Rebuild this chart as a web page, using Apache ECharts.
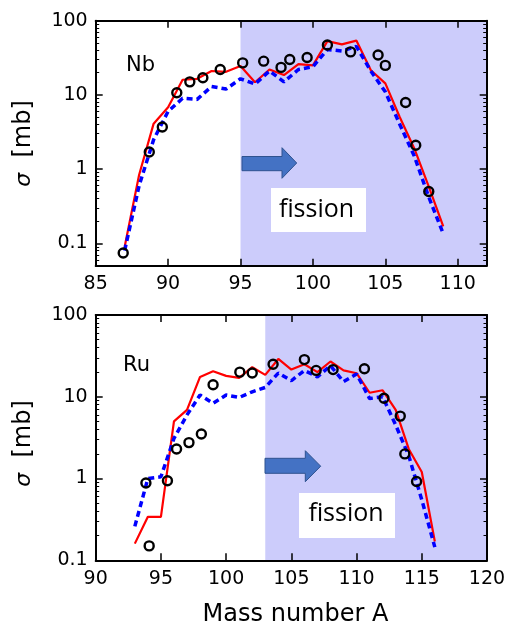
<!DOCTYPE html>
<html>
<head>
<meta charset="utf-8">
<script src="https://cdn.jsdelivr.net/npm/echarts@6/dist/echarts.min.js"></script>
<style>html,body{margin:0;padding:0;background:#fff;}#c{width:509px;height:625px;}</style>
</head>
<body>
<div id="c"></div>
<script>
// ---- Nb panel (top) ----
const nbModelA = [87,88,89,90,91,92,93,94,95,96,97,98,99,100,101,102,103,104,105,106,107,108,109];
const nbRed    = [0.09,0.84,4.1,6.8,16,16.5,21,20.5,24.5,14.8,22,18.5,26,25,53,48,54,21.5,14.3,5.0,1.9,0.58,0.17];
const nbBlue   = [0.08,0.6,2.5,6,9,8.7,13,12,16.5,14,21,15,22,24,41,39,45,21,11,4.0,1.5,0.42,0.135];
const nbExpA   = [86.9,88.7,89.6,90.6,91.5,92.4,93.6,95.15,96.6,97.8,98.4,99.6,101.0,102.6,104.5,105.0,106.4,107.1,108.0];
const nbExp    = [0.074,1.7,3.7,10.7,15,17,22,27,28.5,23.5,30,32,47,38,34.5,25,7.9,2.1,0.5];
const nbFissionFrom = 95;

// ---- Ru panel (bottom) ----
const ruModelA = [93,94,95,96,97,98,99,100,101,102,103,104,105,106,107,108,109,110,111,112,113,114,115,116];
const ruRed    = [0.16,0.34,0.34,5,6.9,17.5,20.5,18,17,23,18.5,29,21.5,25,20,27,21,19.4,11.2,12,6.9,2.3,1.2,0.17];
const ruBlue   = [0.26,1.0,1.05,3.1,6,10.5,8.3,10.5,9.8,11.5,13,19.5,15.7,21,17.5,24,15.3,19,9.5,10,4.5,1.9,0.55,0.145];
const ruExpA   = [93.85,94.1,95.5,96.2,97.15,98.1,99.0,101.05,102.0,103.6,106.0,106.9,108.2,110.6,112.1,113.35,113.7,114.6];
const ruExp    = [0.88,0.15,0.94,2.3,2.75,3.5,14,20,19.5,25,28.5,21,21.5,22,9.6,5.8,2.0,0.92];
const ruFissionFrom = 103;

const yMajorTicks = [0.1,1,10,100];
const xLabel = 'Mass number A';
const yLabel = 'σ  [mb]';

function minorTicks(lo, hi){
  const out=[];
  for (let d=0.01; d<=100; d*=10){
    for (let m=2;m<=9;m++){ const v=+(m*d).toPrecision(3); if(v>lo && v<hi) out.push(v); }
  }
  return out;
}
const pairs=(xs,ys)=>xs.map((x,i)=>[x,ys[i]]);

const FONT='DejaVu Sans';
const lineStyleAxis={color:'#000',width:2};

function xAxes(grid,min,max){
  return [
    {type:'value',gridIndex:grid,min:min,max:max,interval:5,position:'bottom',z:10,
     axisLine:{show:true,onZero:false,lineStyle:lineStyleAxis},
     axisTick:{show:true,inside:true,length:7,lineStyle:{color:'#000',width:1.5}},
     axisLabel:{show:true,margin:9,fontFamily:FONT,fontSize:19,color:'#000',
       formatter:v=>(v%5===0?String(v):'')},
     splitLine:{show:false}},
    {type:'value',gridIndex:grid,min:min,max:max,interval:5,position:'top',z:10,
     axisLine:{show:true,onZero:false,lineStyle:lineStyleAxis},
     axisTick:{show:true,inside:true,length:7,lineStyle:{color:'#000',width:1.5}},
     axisLabel:{show:false},splitLine:{show:false}}
  ];
}
function yAxes(grid,min,max){
  const minors=minorTicks(min,max);
  const majors=yMajorTicks.filter(v=>v>=min&&v<=max);
  const base={type:'log',logBase:10,gridIndex:grid,min:min,max:max,z:10,splitLine:{show:false}};
  return [
    Object.assign({},base,{position:'left',
      axisLine:{show:true,onZero:false,lineStyle:lineStyleAxis},
      axisTick:{show:true,inside:true,length:7,customValues:majors,lineStyle:{color:'#000',width:1.5}},
      axisLabel:{show:true,margin:8,customValues:majors,fontFamily:FONT,fontSize:19,color:'#000',
        formatter:v=>String(+v.toPrecision(3))}}),
    Object.assign({},base,{position:'left',
      axisLine:{show:false},
      axisTick:{show:true,inside:true,length:3.5,customValues:minors,lineStyle:{color:'#000',width:1}},
      axisLabel:{show:false}}),
    Object.assign({},base,{position:'right',
      axisLine:{show:true,onZero:false,lineStyle:lineStyleAxis},
      axisTick:{show:true,inside:true,length:7,customValues:majors,lineStyle:{color:'#000',width:1.5}},
      axisLabel:{show:false}}),
    Object.assign({},base,{position:'right',
      axisLine:{show:false},
      axisTick:{show:true,inside:true,length:3.5,customValues:minors,lineStyle:{color:'#000',width:1}},
      axisLabel:{show:false}})
  ];
}

function panelSeries(xi,yi,modelA,red,blue,expA,exp,fFrom,xMax){
  return [
    {type:'line',xAxisIndex:xi,yAxisIndex:yi,data:pairs(modelA,red),symbol:'none',z:3,
     lineStyle:{color:'#ff0000',width:2.2},
     markArea:{silent:true,itemStyle:{color:'#ccccfb',opacity:1},data:[[{xAxis:fFrom},{xAxis:xMax}]]}},
    {type:'line',xAxisIndex:xi,yAxisIndex:yi,data:pairs(modelA,blue),symbol:'none',z:3,
     lineStyle:{color:'#0000ff',width:3.5,type:[6,4]}},
    {type:'scatter',xAxisIndex:xi,yAxisIndex:yi,data:pairs(expA,exp),symbol:'circle',symbolSize:9,z:4,
     itemStyle:{color:'rgba(0,0,0,0)',borderColor:'#000',borderWidth:2.4,opacity:1}}
  ];
}

function arrow(x0,x1,x2,yb0,yb1,yh0,yh1){
  const ym=(yh0+yh1)/2;
  return {type:'polygon',z:20,shape:{points:[[x0,yb0],[x1,yb0],[x1,yh0],[x2,ym],[x1,yh1],[x1,yb1],[x0,yb1]]},
    style:{fill:'#4472c4',stroke:'#2f528f',lineWidth:1}};
}

const chart=echarts.init(document.getElementById('c'),null,{renderer:'canvas'});
chart.setOption({
  animation:false,
  backgroundColor:'#fff',
  grid:[
    {left:95.7,top:20.7,width:391,height:245},
    {left:95.7,top:315,width:391.3,height:245.3}
  ],
  xAxis:[...xAxes(0,85,112),...xAxes(1,90,120)],
  yAxis:[...yAxes(0,0.05,100),...yAxes(1,0.1,100)],
  series:[
    ...panelSeries(0,0,nbModelA,nbRed,nbBlue,nbExpA,nbExp,nbFissionFrom,112),
    ...panelSeries(2,4,ruModelA,ruRed,ruBlue,ruExpA,ruExp,ruFissionFrom,120)
  ],
  graphic:[
    arrow(242,282,296.7,156.5,170.7,147.7,178.3),
    arrow(265,305.3,320.7,458.3,473.3,450.7,481.7),
    {type:'rect',z:20,shape:{x:271,y:188,width:95,height:44},style:{fill:'#fff'}},
    {type:'rect',z:20,shape:{x:299,y:493,width:96,height:45},style:{fill:'#fff'}},
    {type:'text',z:21,x:316.5,y:210,style:{text:'fission',fontFamily:'Open Sans',fontSize:25,fill:'#000',align:'center',verticalAlign:'middle'}},
    {type:'text',z:21,x:346,y:514,style:{text:'fission',fontFamily:'Open Sans',fontSize:25,fill:'#000',align:'center',verticalAlign:'middle'}},
    {type:'text',z:21,x:126,y:65.4,style:{text:'Nb',fontFamily:FONT,fontSize:21,fill:'#000',align:'left',verticalAlign:'middle'}},
    {type:'text',z:21,x:123,y:365.5,style:{text:'Ru',fontFamily:FONT,fontSize:21,fill:'#000',align:'left',verticalAlign:'middle'}},
    {type:'text',z:21,x:295.5,y:614.5,style:{text:xLabel,fontFamily:FONT,fontSize:24,fill:'#000',align:'center',verticalAlign:'middle'}},
    {type:'text',z:21,x:24,y:143.5,rotation:Math.PI/2,style:{text:'{s|σ}  [mb]',fontFamily:FONT,fontSize:24,fill:'#000',align:'center',verticalAlign:'middle',
      rich:{s:{fontFamily:FONT,fontStyle:'italic',fontSize:22}}}},
    {type:'text',z:21,x:24,y:443.5,rotation:Math.PI/2,style:{text:'{s|σ}  [mb]',fontFamily:FONT,fontSize:24,fill:'#000',align:'center',verticalAlign:'middle',
      rich:{s:{fontFamily:FONT,fontStyle:'italic',fontSize:22}}}}
  ]
});
</script>
</body>
</html>
